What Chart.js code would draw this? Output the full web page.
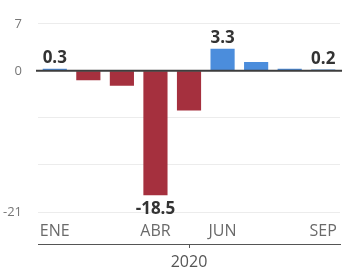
<!DOCTYPE html>
<html>
<head>
<meta charset="utf-8">
<script src="https://cdn.jsdelivr.net/npm/chart.js@4"></script>
<style>
  html, body { margin: 0; padding: 0; background: #fff; }
  #wrap { width: 347px; height: 272px; }
</style>
</head>
<body>
<div id="wrap"><canvas id="myChart" width="347" height="272"></canvas></div>
<script>
// Monthly values, 2020
const months = ["ENE", "FEB", "MAR", "ABR", "MAY", "JUN", "JUL", "AGO", "SEP"];
const values = [0.3, -1.4, -2.2, -18.5, -5.9, 3.3, 1.3, 0.3, 0.2];
const shownMonths = ["ENE", "ABR", "JUN", "SEP"];
const labelled = ["ENE", "ABR", "JUN", "SEP"];
const yearLabels = ["2020"];
const yTicks = [7, 0, -21];

const colors = values.map((v) => (v < 0 ? "#a5303e" : "#4b8ddc"));

// Draw the zero line over the bars and the value labels
const overlay = {
  id: "overlay",
  afterDatasetsDraw(chart) {
    const { ctx, chartArea, scales } = chart;
    const y0 = scales.y.getPixelForValue(0);
    ctx.save();
    ctx.strokeStyle = "#3d3d3d";
    ctx.lineWidth = 2;
    ctx.beginPath();
    ctx.moveTo(chartArea.left - 2, y0);
    ctx.lineTo(chartArea.right + 2, y0);
    ctx.stroke();

    ctx.fillStyle = "#333";
    ctx.font = "bold 17px 'Open Sans'";
    ctx.textAlign = "center";
    const meta = chart.getDatasetMeta(0);
    values.forEach((v, i) => {
      if (!labelled.includes(months[i])) return;
      const bar = meta.data[i];
      const txt = v.toFixed(1);
      if (v >= 0) {
        ctx.textBaseline = "bottom";
        ctx.fillText(txt, bar.x, Math.min(bar.y, y0) - 2);
      } else {
        ctx.textBaseline = "top";
        ctx.fillText(txt, bar.x, bar.y + 5);
      }
    });
    ctx.restore();
  },
};

new Chart(document.getElementById("myChart"), {
  type: "bar",
  data: {
    labels: months,
    datasets: [
      {
        data: values,
        backgroundColor: colors,
        borderWidth: 0,
        barPercentage: 0.72,
        categoryPercentage: 1,
      },
    ],
  },
  options: {
    responsive: false,
    animation: false,
    layout: { padding: { top: 22, left: 2, right: 2, bottom: 0 } },
    plugins: {
      legend: { display: false },
      tooltip: { enabled: false },
    },
    scales: {
      x: {
        grid: { display: false, drawTicks: false },
        border: { display: false },
        ticks: {
          padding: 10,
          color: "#6a6a6a",
          font: { family: "'Open Sans'", size: 16 },
          maxRotation: 0,
          autoSkip: false,
          callback: (val, i) => (shownMonths.includes(months[i]) ? months[i] : ""),
        },
        afterFit: (s) => { s.height = 32; },
      },
      x2: {
        type: "category",
        labels: yearLabels,
        position: "bottom",
        offset: true,
        grid: {
          display: true,
          drawOnChartArea: false,
          drawTicks: true,
          tickLength: 4,
          offset: false,
          color: "#555",
        },
        border: { display: true, color: "#555", width: 1 },
        ticks: {
          padding: 5,
          color: "#555",
          font: { family: "'Open Sans'", size: 16 },
        },
        afterFit: (s) => { s.height = 28; },
      },
      y: {
        min: -21,
        max: 7,
        border: { display: false },
        grid: {
          drawTicks: false,
          color: (c) => (c.tick.value === 0 ? "rgba(0,0,0,0)" : "#ececec"),
        },
        ticks: {
          stepSize: 7,
          padding: 16,
          color: "#777",
          font: { family: "'Open Sans'", size: 13 },
          callback: (v) => (yTicks.includes(v) ? v : ""),
        },
        afterFit: (s) => { s.width = 36; },
      },
    },
  },
  plugins: [overlay],
});
</script>
</body>
</html>
